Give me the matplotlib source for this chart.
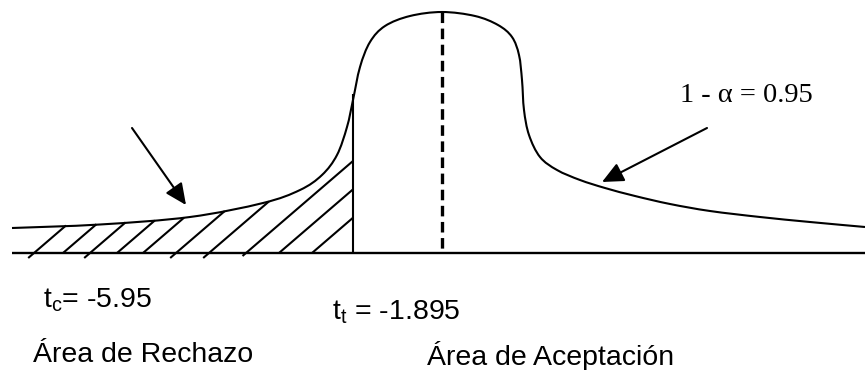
import numpy as np
import matplotlib
matplotlib.use("Agg")
import matplotlib.pyplot as plt
from matplotlib.path import Path
from matplotlib.patches import PathPatch

# ---------- texto / estilo ----------
plt.rcParams["font.family"] = ["Liberation Sans", "DejaVu Sans"]
plt.rcParams["mathtext.fontset"] = "custom"
plt.rcParams["mathtext.rm"] = "Liberation Sans"
plt.rcParams["mathtext.it"] = "Liberation Sans"
plt.rcParams["lines.scale_dashes"] = False

W, H, DPI = 865, 370, 100
FS = 20.5

# ---------- datos del dibujo (coordenadas en pixeles, y hacia abajo) ----------
curve_x = [12, 100, 190, 263, 300, 322, 337, 347, 353, 360, 370, 385, 410, 442,
           475, 498, 512, 519, 522, 524, 529, 540, 557, 580, 605, 635, 670, 710,
           760, 810, 865]
curve_y = [228, 224.5, 217, 203, 190, 175, 155, 127, 100, 67, 42, 26, 16, 12,
           16, 25, 37, 55, 80, 110, 135, 157, 170, 180, 188, 196, 204, 211,
           217, 222, 227]

base_y = 253          # eje horizontal
base_x0 = 12
t_tabla_x = 353       # linea vertical del valor critico
t_tabla_top = 94
media_x = 442         # linea punteada central
media_y = (12, 249)

# rayado de la zona de rechazo: cruce con el eje y cuanto baja de el
hatch_x = [34, 63, 90, 117, 143, 176, 209, 246, 279, 312]
hatch_ext = [5, 0, 5, 0, 0, 5, 5, 3, 0, 0]
HATCH_SLOPE = 0.86

# flechas: (cola, punta)
flecha_izq = ((132, 128), (186, 205))
flecha_der = ((707, 128), (602, 182))


def catmull_bezier(xs, ys):
    """Path bezier suave que pasa por los puntos dados."""
    p = np.column_stack([xs, ys]).astype(float)
    ext = np.vstack([p[0], p, p[-1]])
    verts = [p[0]]
    codes = [Path.MOVETO]
    for i in range(1, len(ext) - 2):
        p0, p1, p2, p3 = ext[i - 1], ext[i], ext[i + 1], ext[i + 2]
        c1 = p1 + (p2 - p0) / 6.0
        c2 = p2 - (p3 - p1) / 6.0
        verts += [c1, c2, p2]
        codes += [Path.CURVE4] * 3
    return Path(verts, codes)


fig = plt.figure(figsize=(W / DPI, H / DPI), dpi=DPI)
ax = fig.add_axes([0, 0, 1, 1])
ax.set_xlim(0, W)
ax.set_ylim(H, 0)
ax.axis("off")

# curva
curva = catmull_bezier(curve_x, curve_y)
ax.add_patch(PathPatch(curva, fill=False, lw=1.5, ec="black", capstyle="butt"))

# version poligonal de la curva para cortar el rayado
poly = curva.to_polygons(closed_only=False)[0]
px, py = poly[:, 0], poly[:, 1]
order = np.argsort(px)
px, py = px[order], py[order]

for xb, e in zip(hatch_x, hatch_ext):
    x0 = xb - e / HATCH_SLOPE
    y0 = base_y + e
    xs = np.linspace(xb, t_tabla_x, 400)
    ys = base_y - (xs - xb) * HATCH_SLOPE
    above = ys < np.interp(xs, px, py)
    x1 = xs[np.argmax(above)] if above.any() else t_tabla_x
    y1 = base_y - (x1 - xb) * HATCH_SLOPE
    ax.plot([x0, x1], [y0, y1], color="black", lw=1.5, solid_capstyle="butt")

# eje, linea critica y linea central
ax.plot([base_x0, W], [base_y, base_y], color="black", lw=1.7,
        solid_capstyle="butt")
ax.plot([t_tabla_x, t_tabla_x], [base_y, t_tabla_top], color="black", lw=1.5,
        solid_capstyle="butt")
ax.plot([media_x, media_x], media_y, color="black", lw=2.4,
        dashes=(7.6, 4.0), dash_capstyle="butt")

# flechas
for tail, tip in (flecha_izq, flecha_der):
    ax.annotate("", xy=tip, xytext=tail,
                arrowprops=dict(arrowstyle="-|>,head_length=0.65,head_width=0.3",
                                mutation_scale=20, lw=1.5, color="black",
                                shrinkA=0, shrinkB=0))

# textos
ax.text(680, 102, "1 - α = 0.95", family=["Liberation Serif", "DejaVu Serif"],
        fontsize=FS, ha="left", va="baseline")
ax.text(43, 308, r"$\mathrm{t_c}$= -5.95", fontsize=FS, ha="left", va="baseline")
ax.text(332, 320, r"$\mathrm{t_t}$ = -1.895", fontsize=FS, ha="left", va="baseline")
ax.text(33, 362, "Área de Rechazo", fontsize=FS, ha="left", va="baseline")
ax.text(427, 365, "Área de Aceptación", fontsize=FS, ha="left", va="baseline")

fig.savefig("out.png", dpi=DPI, facecolor="white")
